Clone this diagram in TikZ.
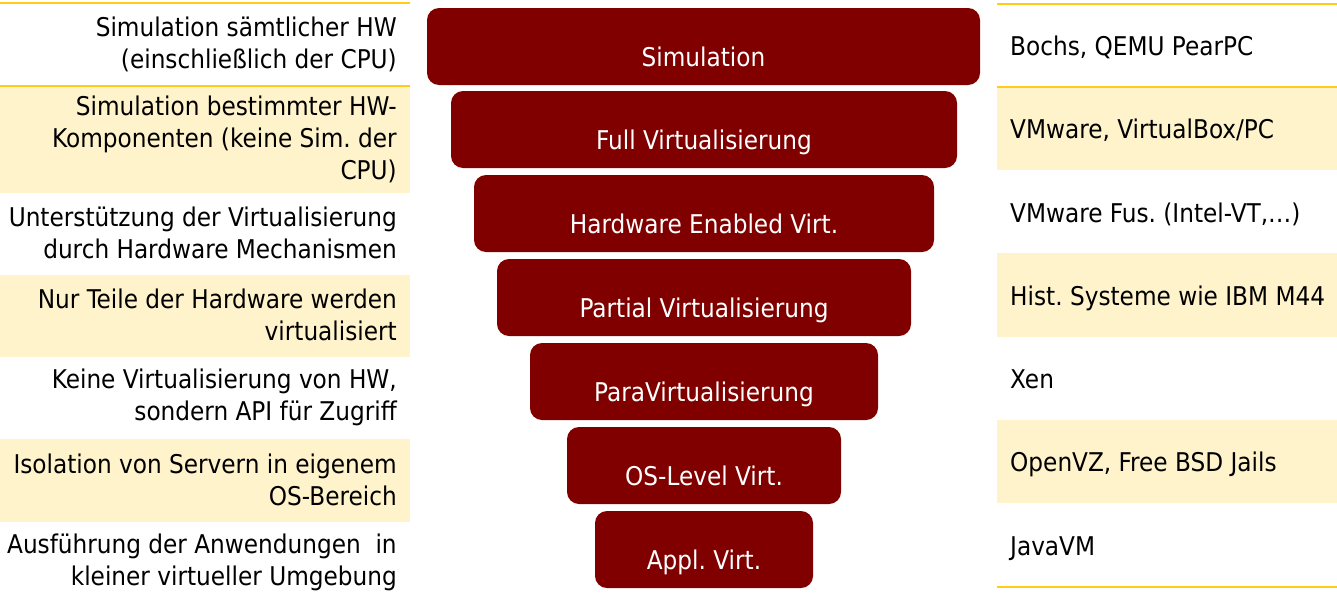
\documentclass[tikz,border=0pt]{standalone}
\usepackage{fontspec}
\setmainfont{DejaVu Sans Condensed}
\frenchspacing
\definecolor{barred}{HTML}{800000}
\definecolor{rowfill}{HTML}{FFF3CB}
\definecolor{rowline}{HTML}{FFCC1A}
\tikzset{
  bar/.style={fill=barred, draw=none, rounded corners=12pt, inner sep=0pt},
  bartext/.style={text=white, anchor=base, inner sep=0pt, font=\fontsize{25.8}{32}\selectfont},
  lefttext/.style={anchor=east, align=right, inner sep=0pt, font=\fontsize{25.8}{32}\selectfont},
  righttext/.style={anchor=base west, inner sep=0pt, font=\fontsize{25.8}{32}\selectfont},
  hline/.style={draw=rowline, line width=2pt},
}
\begin{document}
\begin{tikzpicture}[x=1pt,y=-1pt]
\useasboundingbox (0,0) rectangle (1337,597);
% left column fills and lines
\fill[rowfill] (0,86) rectangle (410,193);
\fill[rowfill] (0,275) rectangle (410,357);
\fill[rowfill] (0,439) rectangle (410,522);
\draw[hline] (0,3) -- (410,3);
\draw[hline] (0,85.5) -- (410,85.5);
% right column fills and lines
\fill[rowfill] (997,87) rectangle (1337,170);
\fill[rowfill] (997,253) rectangle (1337,337);
\fill[rowfill] (997,420) rectangle (1337,503);
\draw[hline] (997,4) -- (1337,4);
\draw[hline] (997,86.5) -- (1337,86.5);
\draw[hline] (997,587) -- (1337,587);
% bars
\node[bar, minimum width=553pt, minimum height=77pt] (b1) at (703.5,46.5) {};
\node[bar, minimum width=506pt, minimum height=77pt] (b2) at (704,129.5) {};
\node[bar, minimum width=460pt, minimum height=77pt] (b3) at (704,213.5) {};
\node[bar, minimum width=414pt, minimum height=77pt] (b4) at (704,297.5) {};
\node[bar, minimum width=348pt, minimum height=77pt] (b5) at (704,381.5) {};
\node[bar, minimum width=274pt, minimum height=77pt] (b6) at (704,465.5) {};
\node[bar, minimum width=218pt, minimum height=77pt] (b7) at (704,549.5) {};
\node[bartext] (t1) at ([yshift=-20pt]b1.center) {Simulation};
\node[bartext] (t2) at ([yshift=-20pt]b2.center) {Full Virtualisierung};
\node[bartext] (t3) at ([yshift=-20pt]b3.center) {Hardware Enabled Virt.};
\node[bartext] (t4) at ([yshift=-20pt]b4.center) {Partial Virtualisierung};
\node[bartext] (t5) at ([yshift=-20pt]b5.center) {ParaVirtualisierung};
\node[bartext] (t6) at ([yshift=-20pt]b6.center) {OS-Level Virt.};
\node[bartext] (t7) at ([yshift=-20pt]b7.center) {Appl. Virt.};
% left descriptions
\node[lefttext] (l1) at (397,44) {Simulation sämtlicher HW\\(einschließlich der CPU)};
\node[lefttext] (l2) at (397,139.5) {Simulation bestimmter HW-\\Komponenten (keine Sim. der\\CPU)};
\node[lefttext] (l3) at (397,233) {Unterstützung der Virtualisierung\\durch Hardware Mechanismen};
\node[lefttext] (l4) at (397,315) {Nur Teile der Hardware werden\\virtualisiert};
\node[lefttext] (l5) at (397,397) {Keine Virtualisierung von HW,\\sondern API für Zugriff};
\node[lefttext] (l6) at (397,479.5) {Isolation von Servern in eigenem\\OS-Bereich};
\node[lefttext] (l7) at (397,562) {Ausführung der Anwendungen~ in\\kleiner virtueller Umgebung};
% right examples
\node[righttext] (r1) at (1010,55) {Bochs, QEMU PearPC};
\node[righttext] (r2) at (1010,138.5) {VMware, VirtualBox/PC};
\node[righttext] (r3) at (1010,222) {VMware Fus. (Intel-VT,…)};
\node[righttext] (r4) at (1010,305) {Hist. Systeme wie IBM M44};
\node[righttext] (r5) at (1010,388.5) {Xen};
\node[righttext] (r6) at (1010,471.5) {OpenVZ, Free BSD Jails};
\node[righttext] (r7) at (1010,555) {JavaVM};
\end{tikzpicture}
\end{document}
